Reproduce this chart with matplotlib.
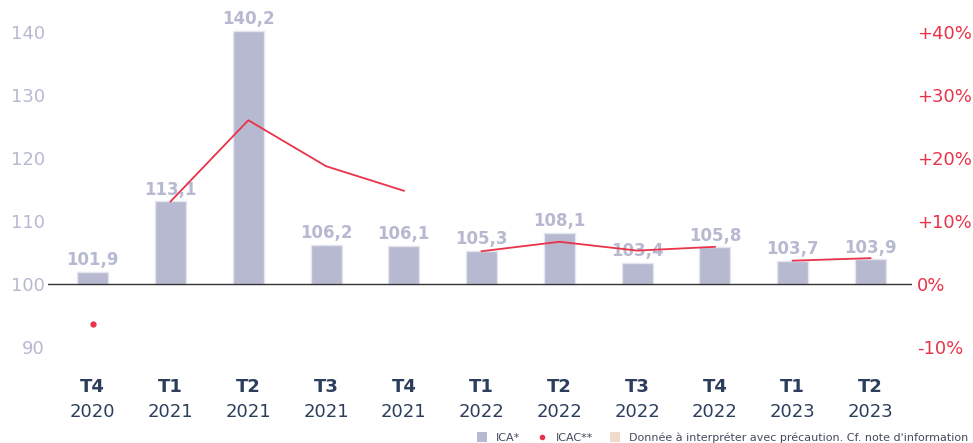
import matplotlib.pyplot as plt
from matplotlib.lines import Line2D
from matplotlib.patches import Patch

# data
quarters = ["T4", "T1", "T2", "T3", "T4", "T1", "T2", "T3", "T4", "T1", "T2"]
years = ["2020", "2021", "2021", "2021", "2021", "2022", "2022", "2022", "2022", "2023", "2023"]
ica = [101.9, 113.1, 140.2, 106.2, 106.1, 105.3, 108.1, 103.4, 105.8, 103.7, 103.9]
icac = [-6.3, 13.1, 26.0, 18.7, 14.8, 5.2, 6.7, 5.3, 5.9, 3.7, 4.1]

BAR = "#b7b9d1"
RED = "#e8334a"
NAVY = "#2c3e5c"

fig = plt.figure(figsize=(9.73, 4.43), dpi=100)
ax = fig.add_axes([0.049, 0.160, 0.888, 0.796])
x = list(range(len(ica)))

bars = ax.bar(x, [v - 100 for v in ica], bottom=100, width=0.4,
              color=BAR, edgecolor="#e4e5ee", linewidth=1, zorder=2)
for xi, v in zip(x, ica):
    ax.text(xi, v + 0.45, f"{v:.1f}".replace(".", ","), ha="center", va="bottom",
            fontsize=12, fontweight="bold", color=BAR, zorder=3)

ax.set_ylim(86, 142)
ax.set_xlim(-0.58, 10.53)
ax.set_yticks([90, 100, 110, 120, 130, 140])
ax.tick_params(axis="y", length=0, labelsize=13, labelcolor=BAR, pad=2)
ax.axhline(100, color="#333333", linewidth=1, zorder=3)
for s in ax.spines.values():
    s.set_visible(False)
ax.set_xticks(x)
ax.set_xticklabels([""] * len(x))
ax.tick_params(axis="x", length=0)
for xi, q, yr in zip(x, quarters, years):
    ax.text(xi, -0.018, q, transform=ax.get_xaxis_transform(), ha="center", va="top",
            fontsize=13, fontweight="bold", color=NAVY)
    ax.text(xi, -0.088, yr, transform=ax.get_xaxis_transform(), ha="center", va="top",
            fontsize=13, color=NAVY)

# ICAC on the right axis, line connected within each year
ax2 = ax.twinx()
ax2.set_ylim(-14, 42)
groups = {}
for xi, yr, v in zip(x, years, icac):
    groups.setdefault(yr, []).append((xi, v))
for yr, pts in groups.items():
    xs = [p[0] for p in pts]
    vs = [p[1] for p in pts]
    if len(pts) == 1:
        ax2.plot(xs, vs, "o", color=RED, markersize=3.5, zorder=4)
    else:
        ax2.plot(xs, vs, "-", color=RED, linewidth=1.3, zorder=4)
ax2.set_yticks([-10, 0, 10, 20, 30, 40])
ax2.set_yticklabels(["-10%", "0%", "+10%", "+20%", "+30%", "+40%"])
ax2.tick_params(axis="y", length=0, labelsize=13, labelcolor=RED, pad=4)
for s in ax2.spines.values():
    s.set_visible(False)

handles = [
    Patch(facecolor=BAR, edgecolor="none"),
    Line2D([], [], marker="o", color=RED, linestyle="none", markersize=3),
    Patch(facecolor="#f1dacb", edgecolor="none"),
]
labels = ["ICA*", "ICAC**", "Donnée à interpréter avec précaution. Cf. note d'information"]
fig.legend(handles, labels, loc="lower right", bbox_to_anchor=(1.005, -0.022), ncol=3,
           frameon=False, fontsize=8, handlelength=0.9, handleheight=0.9,
           columnspacing=1.5, handletextpad=0.8, labelcolor="#444a5c")

fig.savefig("out.png", dpi=100)
